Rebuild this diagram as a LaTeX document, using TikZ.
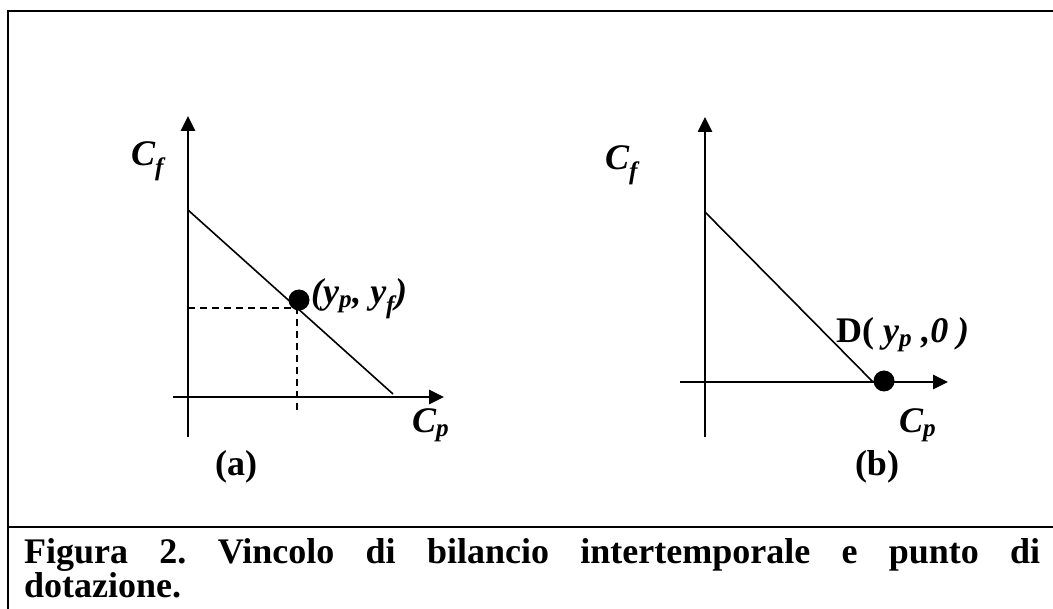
\documentclass[tikz,border=0pt]{standalone}
\usepackage{fontspec}
\setmainfont{Liberation Serif}
\usetikzlibrary{arrows.meta,positioning,calc}
\tikzset{
  axis/.style   ={line width=2.6pt,-{Triangle[length=15pt,width=14pt]}},
  budget/.style ={line width=1.6pt},
  guide/.style  ={line width=1.5pt,dash pattern=on 7pt off 5pt},
  endow/.style  ={circle,fill=black,minimum size=21pt,inner sep=0pt},
  lbl/.style    ={font=\fontsize{36}{40}\selectfont\bfseries\itshape,inner sep=0pt},
  tag/.style    ={font=\fontsize{36}{40}\selectfont\bfseries,inner sep=0pt},
  frame/.style  ={line width=2.6pt}
}

\begin{document}
\begin{tikzpicture}[x=1pt,y=-1pt]
  \useasboundingbox (0,0) rectangle (1053,609);
  % frame
  \coordinate (fbl) at (8,609);
  \coordinate (ftl) at (8,11);
  \coordinate (ftr) at (1053,11);
  \coordinate (sl) at (8,527);
  \coordinate (sr) at (1053,527);
  \draw[frame] (fbl) -- (ftl) -- (ftr);
  \draw[frame] (sl) -- (sr);

  % panel (a)
  \coordinate (ay0) at (188,437);
  \coordinate (ay1) at (188,116);
  \coordinate (ax0) at (173,397);
  \coordinate (ax1) at (444,397);
  \draw[axis] (ay0) -- (ay1);
  \draw[axis] (ax0) -- (ax1);
  \coordinate (abt) at (188,210);
  \coordinate (abr) at (393,394);
  \draw[budget] (abt) -- (abr);
  \coordinate (agl) at (188,308);
  \coordinate (agb) at (297,413);
  \node[endow] (apt) at (299,300) {};
  \draw[guide] (agl) -- (297,308) -- (agb);
  \node[lbl, anchor=base west] (aptlbl) at (311,304) {(y\textsubscript{p}, y\textsubscript{f})};
  \node[lbl, anchor=base west] (acf) at (131,166) {C\textsubscript{f}};
  \node[lbl, anchor=base west] (acp) at (412,433) {C\textsubscript{p}};
  \node[tag] (atag) at (236,467) {(a)};

  % panel (b)
  \coordinate (by0) at (705,437);
  \coordinate (by1) at (705,117);
  \coordinate (bx0) at (680,382);
  \coordinate (bx1) at (948,382);
  \draw[axis] (by0) -- (by1);
  \draw[axis] (bx0) -- (bx1);
  \coordinate (bbt) at (705,212);
  \coordinate (bbr) at (873,382);
  \draw[budget] (bbt) -- (bbr);
  \node[endow] (bpt) at (884,381) {};
  \node[tag, anchor=base west] (bptlbl) at (836,343) {D( \textit{y\textsubscript{p} ,0 )}};
  \node[lbl, anchor=base west] (bcf) at (605,170) {C\textsubscript{f}};
  \node[lbl, anchor=base west] (bcp) at (899,433) {C\textsubscript{p}};
  \node[tag] (btag) at (877,467) {(b)};

  % caption
  \node[anchor=base west, inner sep=0pt, text width=1016pt, align=justify,
        font=\fontsize{36}{35}\selectfont\bfseries\frenchspacing] (caption) at (24,563)
    {Figura 2. Vincolo di bilancio intertemporale e punto di\linebreak dotazione.};
\end{tikzpicture}
\end{document}
